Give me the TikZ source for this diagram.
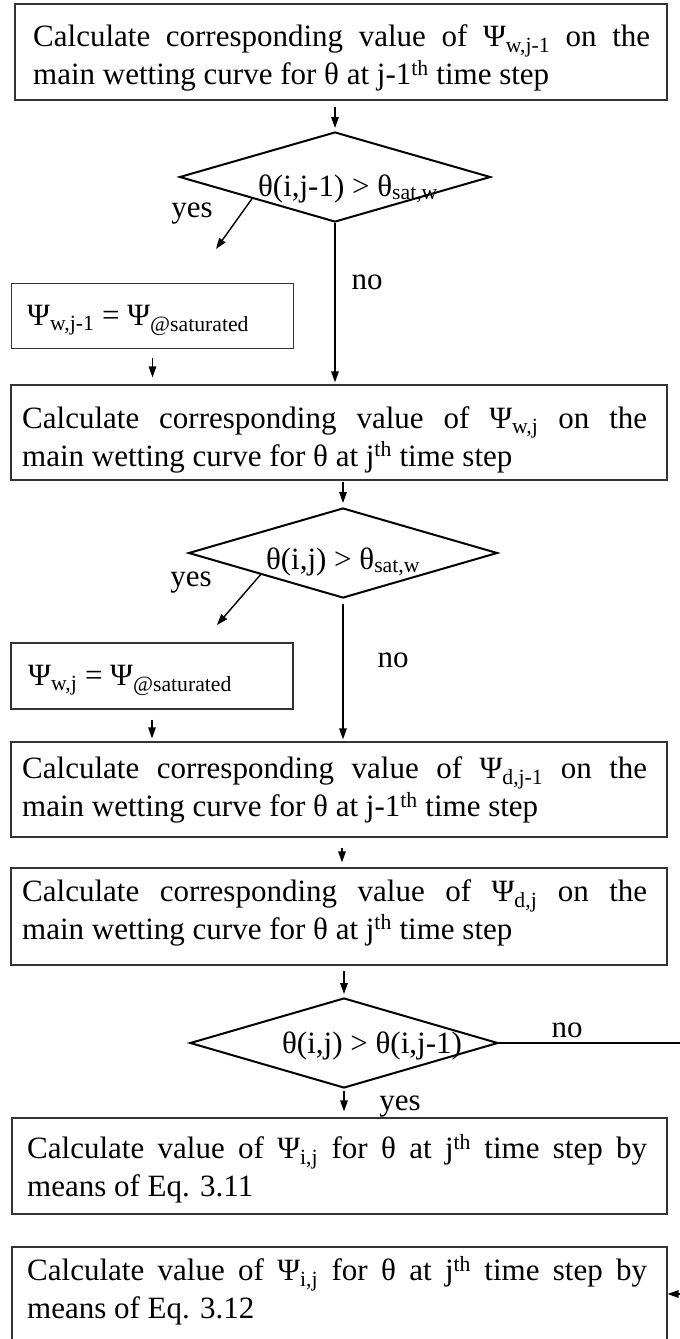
\documentclass[tikz,border=0pt]{standalone}
\usepackage{fontspec}
\setmainfont{Liberation Serif}
\usetikzlibrary{shapes.geometric,arrows.meta,calc}
\tolerance=10000
\hyphenpenalty=10000
\begin{document}
\begin{tikzpicture}[x=1pt,y=-1pt,
  every node/.style={font=\fontsize{31}{38}\selectfont, inner sep=0pt},
  box/.style={draw=black!80, line width=1.2pt, rectangle, inner sep=0pt},
  dia/.style={draw=black, line width=2pt, diamond, inner sep=0pt, minimum width=310pt, minimum height=90pt},
  txt/.style={anchor=base west, align=justify, text width=#1},
  lbl/.style={anchor=base},
  arr/.style={draw=black, line width=1.4pt, -{Triangle[length=11pt,width=7.5pt]}},
  ln/.style={draw=black, line width=1.4pt}
]
\useasboundingbox (0,0) rectangle (680,1339);

% boxes
\node[box, minimum width=652pt, minimum height=96pt] (box1) at (341,52) {};
\node[box, minimum width=282pt, minimum height=65pt] (bw1) at (152.5,316) {};
\node[box, minimum width=656pt, minimum height=95pt] (box2) at (339,432.5) {};
\node[box, minimum width=282pt, minimum height=66pt] (bw2) at (152,676) {};
\node[box, minimum width=656pt, minimum height=95pt] (box3) at (339,789.5) {};
\node[box, minimum width=656pt, minimum height=97pt] (box4) at (339,916.5) {};
\node[box, minimum width=655pt, minimum height=96pt] (box5) at (339.5,1166) {};
\node[box, minimum width=655pt, minimum height=94pt] (box6) at (339.5,1294) {};

% diamonds
\node[dia, minimum width=311pt] (d1) at (335,177) {};
\node[dia, minimum width=309pt] (d2) at (343,553) {};
\node[dia, minimum width=308pt] (d3) at (344,1043) {};

% texts
\node[txt=617pt] (box1t) at (33,46.5) {Calculate corresponding value of Ψ\textsubscript{w,j-1} on the\linebreak main wetting curve for θ at j-1\textsuperscript{th} time step};
\node[anchor=base west] (bw1t) at (27,325) {Ψ\textsubscript{w,j-1} = Ψ\textsubscript{@saturated}};
\node[txt=625pt] (box2t) at (22,428) {Calculate corresponding value of Ψ\textsubscript{w,j} on the\linebreak main wetting curve for θ at j\textsuperscript{th} time step};
\node[anchor=base west] (bw2t) at (28,685) {Ψ\textsubscript{w,j} = Ψ\textsubscript{@saturated}};
\node[txt=625pt] (box3t) at (22,778.5) {Calculate corresponding value of Ψ\textsubscript{d,j-1} on the\linebreak main wetting curve for θ at j-1\textsuperscript{th} time step};
\node[txt=625pt] (box4t) at (22,901) {Calculate corresponding value of Ψ\textsubscript{d,j} on the\linebreak main wetting curve for θ at j\textsuperscript{th} time step};
\node[txt=620pt] (box5t) at (27,1158.5) {Calculate value of Ψ\textsubscript{i,j} for θ at j\textsuperscript{th} time step by\linebreak means of Eq. 3.11};
\node[txt=620pt] (box6t) at (27,1280.5) {Calculate value of Ψ\textsubscript{i,j} for θ at j\textsuperscript{th} time step by\linebreak means of Eq. 3.12};

\node[lbl] (t1) at (348,196) {θ(i,j-1) > θ\textsubscript{sat,w}};
\node[lbl] (t2) at (343,569) {θ(i,j) > θ\textsubscript{sat,w}};
\node[lbl] (t3) at (372,1053) {θ(i,j) > θ(i,j-1)};

\node[lbl] (yes1) at (192,217) {yes};
\node[lbl] (no1) at (367,289) {no};
\node[lbl] (yes2) at (191,586) {yes};
\node[lbl] (no2) at (393,667) {no};
\node[lbl] (no3) at (567,1037) {no};
\node[lbl] (yes3) at (400,1110) {yes};

% connectors
\draw[arr, shorten <=6pt, shorten >=3pt] (box1.south -| d1.north) -- (d1.north);
\coordinate (y1s) at ($(d1.west)!0.47!(d1.south)$);
\coordinate (y1e) at (216,249);
\draw[arr] (y1s) -- (y1e);
\draw[arr, shorten >=2pt] (d1.south) -- (d1.south |- box2.north);
\draw[arr, shorten <=9pt, shorten >=7pt] (bw1.south) -- (bw1.south |- box2.north);

\draw[arr, shorten <=1pt, shorten >=4pt] (box2.south -| d2.north) -- (d2.north);
\coordinate (y2s) at ($(d2.west)!0.47!(d2.south)$);
\coordinate (y2e) at (217,625);
\draw[arr] (y2s) -- (y2e);
\draw[arr, shorten <=5pt, shorten >=2pt] (d2.south) -- (d2.south |- box3.north);
\draw[arr, shorten <=10pt, shorten >=3pt] (bw2.south) -- (bw2.south |- box3.north);

\draw[arr, shorten <=10pt, shorten >=5pt] ($(box3.south)+(3,0)$) -- ($(box4.north)+(3,0)$);
\draw[arr, shorten <=5pt, shorten >=3pt] (box4.south -| d3.north) -- (d3.north);
\coordinate (n3e) at (680,1043);
\draw[ln] (d3.east) -- (n3e);
\draw[arr, shorten <=2pt, shorten >=6pt] (d3.south) -- (d3.south |- box5.north);
\coordinate (r6) at (680,1294);
\draw[arr] (r6) -- (box6.east |- r6);
\end{tikzpicture}
\end{document}
